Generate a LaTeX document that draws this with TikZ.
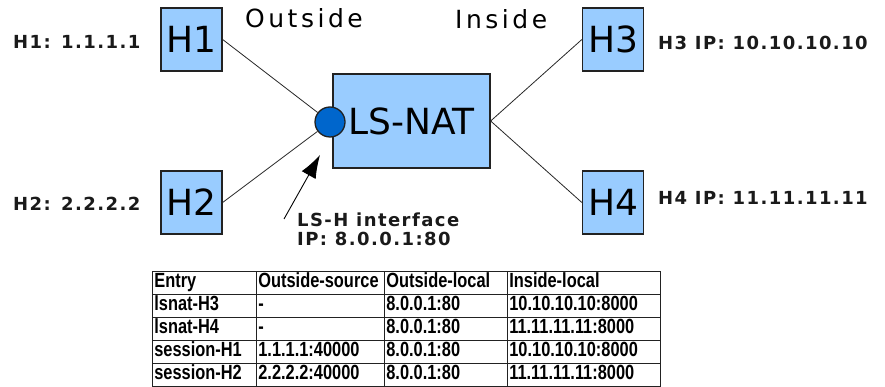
\documentclass[tikz,border=0pt]{standalone}
\usepackage{fontspec}
\setmainfont{DejaVu Sans}
\newfontfamily\labelfont[LetterSpace=8]{DejaVu Sans}
\newfontfamily\zonefont[LetterSpace=14]{DejaVu Sans}
\newfontfamily\tablefont[FakeStretch=0.8]{Liberation Sans}
\usetikzlibrary{matrix,arrows.meta}

\definecolor{hostblue}{HTML}{99CCFF}
\definecolor{portblue}{HTML}{0066CC}
\definecolor{edgegray}{HTML}{222222}
\definecolor{labelgray}{HTML}{1A1A1A}

\tikzset{
  host/.style={draw=edgegray, line width=1.3pt, fill=hostblue,
    minimum width=61pt, minimum height=63pt, inner sep=0pt,
    font=\fontsize{36}{36}\selectfont},
  nat/.style={host, minimum width=157pt, minimum height=94pt},
  port/.style={circle, draw=edgegray, line width=1.3pt, fill=portblue,
    minimum size=30pt, inner sep=0pt},
  link/.style={draw=black!85, line width=0.8pt},
  addr/.style={anchor=base west, inner sep=0pt, text=labelgray,
    font=\labelfont\bfseries\fontsize{18}{20}\selectfont},
  zone/.style={anchor=base west, inner sep=0pt,
    font=\zonefont\fontsize{25}{25}\selectfont},
  cell/.style={draw=edgegray, line width=1.6pt, inner xsep=2pt, inner ysep=0pt,
    text height=14pt, text depth=4pt, minimum height=23pt, align=left,
    font=\tablefont\bfseries\fontsize{20.5}{20.5}\selectfont}
}

\begin{document}
\begin{tikzpicture}[x=1pt,y=-1pt]
  \useasboundingbox (0,0) rectangle (885,387);

  % hosts and the load-sharing NAT
  \node[host] (H1) at (191.5,39.5) {H1};
  \node[host] (H2) at (191.5,202.5) {H2};
  \node[host] (H3) at (613,39.5) {H3};
  \node[host] (H4) at (613,202.5) {H4};
  \node[nat] (nat) at (411.5,121) {LS-NAT};
  \node[port] (port) at (330,122) {};

  % links
  \draw[link] (H1.east) -- (port);
  \draw[link] (H2.east) -- (port);
  \draw[link] (nat.east) -- (H3.west);
  \draw[link] (nat.east) -- (H4.west);

  % address labels
  \node[addr] (a1) at (13,49) {H1: 1.1.1.1};
  \node[addr] (a2) at (13,211) {H2: 2.2.2.2};
  \node[addr] (a3) at (658,50) {H3 IP: 10.10.10.10};
  \node[addr] (a4) at (658,205) {H4 IP: 11.11.11.11};

  % side labels
  \node[zone] (outside) at (245,28) {Outside};
  \node[zone] (inside) at (455,29) {Inside};

  % interface pointer
  \node[addr] (ifname) at (297,226) {LS-H interface};
  \node[addr] (ifaddr) at (297,245) {IP: 8.0.0.1:80};
  \coordinate (ptrTail) at (284,219);
  \coordinate (ptrTip) at (320,155);
  \draw[line width=0.9pt, -{Latex[length=23pt,width=16pt]}] (ptrTail) -- (ptrTip);

  % translation table
  \matrix (tbl) [matrix of nodes, anchor=north west,
    column sep=-1.6pt, row sep=-1.6pt,
    nodes={cell},
    column 1/.style={nodes={text width=100pt}},
    column 2/.style={nodes={text width=124pt}},
    column 3/.style={nodes={text width=119pt}},
    column 4/.style={nodes={text width=149pt}}]
    at (148,267) {
    Entry & Outside-source & Outside-local & Inside-local \\
    lsnat-H3 & - & 8.0.0.1:80 & 10.10.10.10:8000 \\
    lsnat-H4 & - & 8.0.0.1:80 & 11.11.11.11:8000 \\
    session-H1 & 1.1.1.1:40000 & 8.0.0.1:80 & 10.10.10.10:8000 \\
    session-H2 & 2.2.2.2:40000 & 8.0.0.1:80 & 11.11.11.11:8000 \\
  };
\end{tikzpicture}
\end{document}
